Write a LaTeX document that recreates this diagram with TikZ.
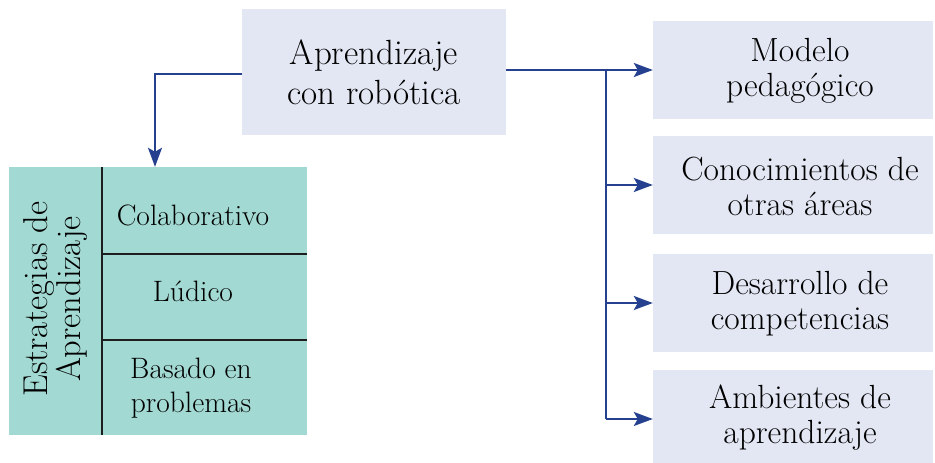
\documentclass[tikz,border=0pt]{standalone}
\usepackage{fontspec}
\usetikzlibrary{arrows.meta}
\definecolor{boxfill}{HTML}{E3E7F3}
\definecolor{tealfill}{HTML}{A2D9D2}
\definecolor{arrowblue}{HTML}{24408F}
\definecolor{rulecol}{HTML}{1E1E1E}
\begin{document}
\begin{tikzpicture}[x=1pt,y=-1pt,
  lbox/.style={fill=boxfill, draw=none, inner sep=0pt, minimum width=280pt, minimum height=98pt},
  rtext/.style={align=center, font=\fontsize{33.5}{35}\selectfont, inner sep=0pt},
  ttext/.style={align=center, font=\fontsize{29.5}{34}\selectfont, inner sep=0pt},
  arr/.style={draw=arrowblue, line width=2pt, -{Stealth[length=19pt,width=14pt,inset=4pt]}},
  link/.style={draw=arrowblue, line width=2pt},
  sep/.style={draw=rulecol, line width=2.6pt}]
\useasboundingbox[fill=white] (0,0) rectangle (935,463);

% top box
\node[fill=boxfill, inner sep=0pt, minimum width=264pt, minimum height=126pt,
      align=center, font=\fontsize{35}{40}\selectfont] (top) at (374,72) {Aprendizaje\\con robótica};

% right boxes
\node[lbox] (r1) at (793,70) {};
\node[lbox] (r2) at (793,185) {};
\node[lbox] (r3) at (793,303) {};
\node[lbox] (r4) at (793,419) {};
\node[rtext] (t1) at (800,71) {Modelo\\pedagógico};
\node[rtext] (t2) at (800,186) {Conocimientos de\\otras áreas};
\node[rtext] (t3) at (800,304) {Desarrollo de\\competencias};
\node[rtext] (t4) at (800,418) {Ambientes de\\aprendizaje};

% table
\node[fill=tealfill, inner sep=0pt, minimum width=298pt, minimum height=268pt] (tbl) at (158,301) {};
\draw[sep] (102,167) -- (102,435);
\draw[sep] (102,254) -- (307,254);
\draw[sep] (102,340) -- (307,340);
\node[ttext] (c1) at (193,215) {Colaborativo};
\node[ttext] (c2) at (193,291) {Lúdico};
\node[ttext] (c3) at (191,388) {Basado en\\problemas};
\node[align=center, inner sep=0pt, rotate=90, font=\fontsize{34.5}{33}\selectfont] (side) at (56,299) {Estrategias de\\Aprendizaje};

% connectors
\draw[arr] ([yshift=-2pt]top.west) -| ([xshift=-3pt]tbl.north);
\draw[arr] (top.east |- r1.west) -- (r1.west);
\coordinate (trunk) at (606,70);
\draw[link] (trunk) -- (trunk |- r4.west);
\draw[arr] (trunk |- r2.west) -- (r2.west);
\draw[arr] (trunk |- r3.west) -- (r3.west);
\draw[arr] (trunk |- r4.west) -- (r4.west);
\end{tikzpicture}
\end{document}
